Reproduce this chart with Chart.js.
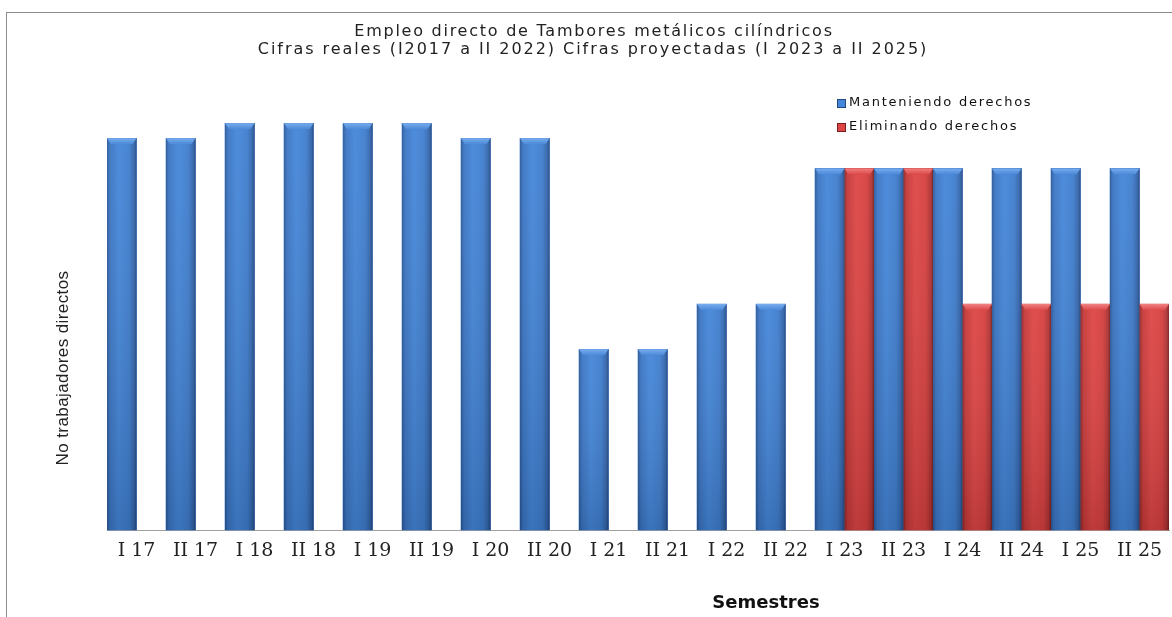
<!DOCTYPE html>
<html>
<head>
<meta charset="utf-8">
<script src="https://cdn.jsdelivr.net/npm/chart.js@4.4.0/dist/chart.umd.min.js"></script>
<style>
  html, body { margin: 0; padding: 0; background: #fff; }
  #wrap { position: relative; width: 1172px; height: 617px; overflow: hidden; }
  #marco { position: absolute; left: 6px; top: 12px; width: 1300px; height: 700px; border: 1px solid #8c8c8c; }
  canvas { position: absolute; left: 0; top: 0; }
</style>
</head>
<body>
<div id="wrap">
  <div id="marco"></div>
  <canvas id="grafico" width="1172" height="617"></canvas>
</div>
<script>
// semestres (eje x)
const semestres = ['I 17', 'II 17', 'I 18', 'II 18', 'I 19', 'II 19', 'I 20', 'II 20', 'I 21', 'II 21',
                   'I 22', 'II 22', 'I 23', 'II 23', 'I 24', 'II 24', 'I 25', 'II 25'];

// trabajadores directos
const manteniendo = [26, 26, 27, 27, 27, 27, 26, 26, 12, 12, 15, 15, 24, 24, 24, 24, 24, 24];
const eliminando  = [null, null, null, null, null, null, null, null, null, null, null, null,
                     24, 24, 15, 15, 15, 15];

const titulo = ['Empleo directo de Tambores metálicos cilíndricos',
                'Cifras reales (I2017 a II 2022) Cifras proyectadas (I 2023 a II 2025)'];
const tituloY = 'No trabajadores directos';
const tituloX = 'Semestres';

// degradados tipo "cilindro" para cada serie
const tonos = {
    azul: { borde: ['#2a5898', '#3a74c2', '#4486d9', '#3f7dcd', '#3264aa', '#23487e'], tapa: ['#78acee', '#4a88d8'] },
    rojo: { borde: ['#8c2525', '#c43838', '#de4545', '#d53f3f', '#b03232', '#782020'], tapa: ['#f08080', '#dc4848'] }
};

const sombreado = {
    id: 'sombreado',
    afterDatasetsDraw(chart) {
        const ctx = chart.ctx;
        chart.data.datasets.forEach((ds, i) => {
            const meta = chart.getDatasetMeta(i);
            const t = tonos[ds.tono];
            meta.data.forEach((el, j) => {
                if (ds.data[j] == null) return;
                const p = el.getProps(['x', 'y', 'base', 'width'], true);
                const l = p.x - p.width / 2, r = p.x + p.width / 2;
                const g = ctx.createLinearGradient(l, 0, r, 0);
                [0, 0.1, 0.4, 0.75, 0.92, 1].forEach((s, k) => g.addColorStop(s, t.borde[k]));
                ctx.save();
                ctx.fillStyle = g;
                ctx.fillRect(l, p.y, p.width, p.base - p.y);
                const v = ctx.createLinearGradient(0, p.y, 0, p.base);
                v.addColorStop(0, 'rgba(255,255,255,0.05)');
                v.addColorStop(1, 'rgba(0,0,0,0.14)');
                ctx.fillStyle = v;
                ctx.fillRect(l, p.y, p.width, p.base - p.y);
                const tg = ctx.createLinearGradient(0, p.y, 0, p.y + 6);
                tg.addColorStop(0, t.tapa[0]);
                tg.addColorStop(1, t.tapa[1]);
                ctx.fillStyle = tg;
                ctx.beginPath();
                ctx.moveTo(l, p.y);
                ctx.lineTo(r, p.y);
                ctx.lineTo(r - 4, p.y + 6);
                ctx.lineTo(l + 4, p.y + 6);
                ctx.closePath();
                ctx.fill();
                ctx.restore();
            });
        });
    },
    afterDraw(chart) {
        const ctx = chart.ctx;
        ctx.save();
        ctx.textAlign = 'center';
        ctx.textBaseline = 'middle';
        // titulo general
        ctx.fillStyle = '#222';
        ctx.font = '16px "DejaVu Sans", sans-serif';
        ctx.letterSpacing = '1.75px';
        ctx.fillText(titulo[0], 594, 32);
        ctx.letterSpacing = '1.95px';
        ctx.fillText(titulo[1], 593, 50);

        // titulo eje x
        ctx.letterSpacing = '0px';
        ctx.fillStyle = '#111';
        ctx.font = 'bold 18px "DejaVu Sans", sans-serif';
        ctx.fillText(tituloX, 766, 603);

        // leyenda
        ctx.font = '13px "DejaVu Sans", sans-serif';
        ctx.letterSpacing = '1.75px';
        ctx.textAlign = 'left';
        chart.data.datasets.forEach((ds, i) => {
            const y = 103 + i * 24;
            const t = tonos[ds.tono];
            ctx.fillStyle = t.borde[2];
            ctx.fillRect(837, y - 4, 9, 9);
            ctx.strokeStyle = t.borde[5];
            ctx.strokeRect(837.5, y - 3.5, 8, 8);
            ctx.fillStyle = '#111';
            ctx.fillText(ds.label, 849, y);
        });
        ctx.restore();

        // titulo eje y
        ctx.save();
        ctx.fillStyle = '#222';
        ctx.font = '17px "Liberation Sans", Arial, sans-serif';
        ctx.letterSpacing = '0.4px';
        ctx.textAlign = 'center';
        ctx.textBaseline = 'middle';
        ctx.translate(63, 368);
        ctx.rotate(-Math.PI / 2);
        ctx.fillText(tituloY, 0, 0);
        ctx.restore();
    }
};

new Chart(document.getElementById('grafico'), {
    type: 'bar',
    data: {
        labels: semestres,
        datasets: [
            { label: 'Manteniendo derechos', data: manteniendo, backgroundColor: '#3f7dcd', tono: 'azul' },
            { label: 'Eliminando derechos', data: eliminando, backgroundColor: '#d53f3f', tono: 'rojo' }
        ]
    },
    options: {
        responsive: false,
        animation: false,
        categoryPercentage: 1,
        barPercentage: 1,
        layout: { padding: { left: 17, right: 3, top: 78, bottom: 46 } },
        plugins: {
            legend: { display: false },
            tooltip: { enabled: false },
            title: { display: false }
        },
        scales: {
            x: {
                grid: { display: false, drawTicks: false },
                border: { display: true, color: '#a0a0a0', width: 1 },
                ticks: { color: '#222', padding: 9, font: { family: '"DejaVu Serif", serif', size: 19 } }
            },
            y: {
                min: 0,
                max: 30,
                grid: { display: false, drawTicks: false },
                border: { display: false },
                ticks: { display: false },
                afterFit(scale) { scale.width = 90; }
            }
        }
    },
    plugins: [sombreado]
});
</script>
</body>
</html>
